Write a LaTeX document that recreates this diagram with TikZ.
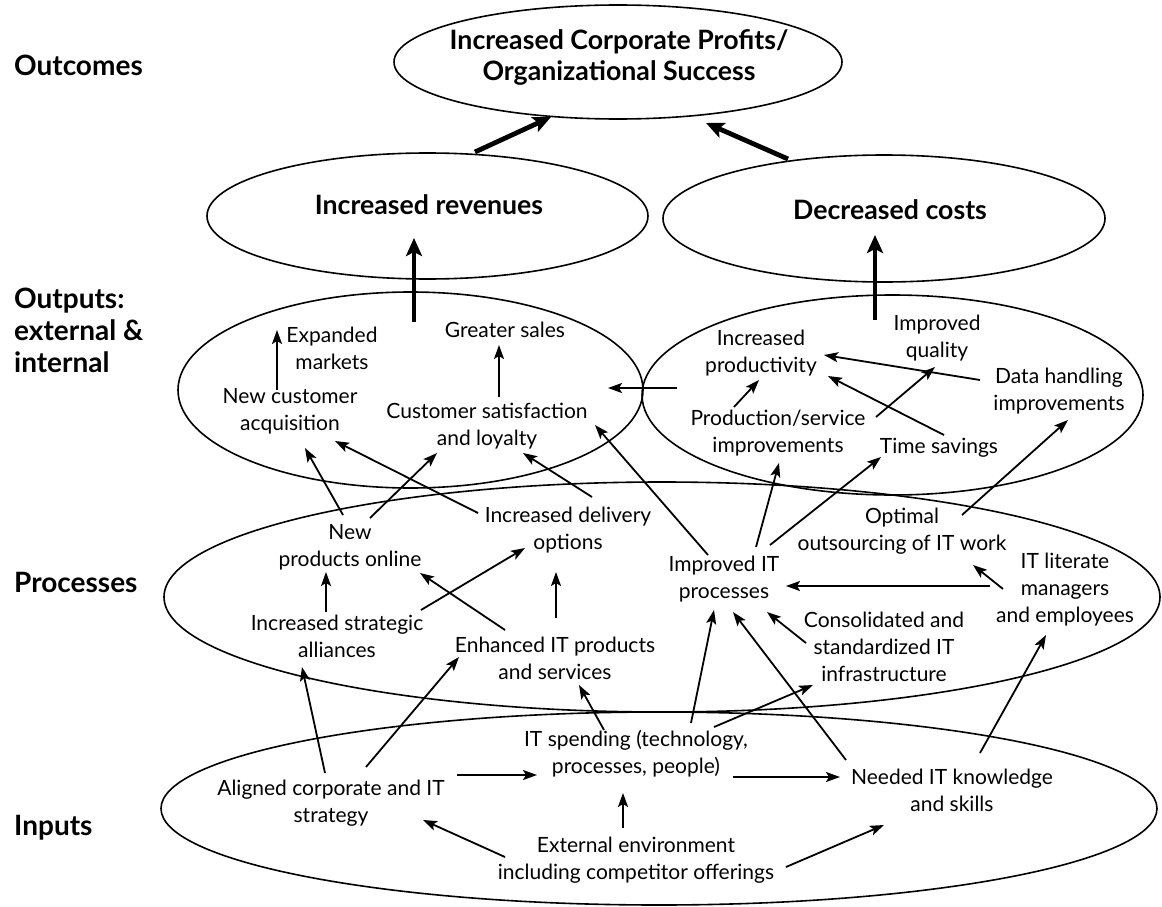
\documentclass[tikz,border=0pt]{standalone}
\usepackage{fontspec}
\setmainfont{Lato}
\usetikzlibrary{arrows.meta,shapes.geometric,calc}
\begin{document}
\begin{tikzpicture}[x=1pt,y=-1pt,
  every node/.style={inner sep=0pt},
  txt/.style={align=center,font=\fontsize{21}{27}\selectfont},
  bld/.style={align=center,font=\fontsize{26.7}{31}\selectfont\bfseries},
  lbl/.style={align=left,anchor=west,font=\fontsize{28}{32}\selectfont\bfseries},
  oval/.style={draw,ellipse,line width=1.6pt,inner sep=0pt},
  arr/.style={line width=1.8pt,-{Stealth[length=14pt,width=10pt,inset=3pt]}},
  fat/.style={line width=4.8pt,-{Stealth[length=18pt,width=16pt,inset=4pt]}},
]
\useasboundingbox (0,0) rectangle (1162,907);
% ellipses
\node[oval,minimum width=448pt,minimum height=114pt] (oc) at (618,62) {};
\node[oval,minimum width=441pt,minimum height=126pt] (rev) at (427.5,216) {};
\node[oval,minimum width=442pt,minimum height=127pt] (cost) at (884,218.5) {};
\node[oval,minimum width=465pt,minimum height=196pt] (outL) at (410.5,390) {};
\node[oval,minimum width=501pt,minimum height=200pt] (outR) at (892.5,395) {};
\node[oval,minimum width=996pt,minimum height=230pt] (proc) at (662,597) {};
\node[oval,minimum width=996pt,minimum height=193pt] (inp) at (659,808.5) {};
% level labels
\node[lbl] (lOut) at (14,65) {Outcomes};
\node[lbl] (lOutp) at (14,330) {Outputs:\\external \&\\internal};
\node[lbl] (lProc) at (14,582) {Processes};
\node[lbl] (lInp) at (14,828) {Inputs};
% outcome texts
\node[bld] (ocT) at (619,57) {Increased Corporate Profits/\\Organizational Success};
\node[bld] (revT) at (429,205) {Increased revenues};
\node[bld] (costT) at (890,210) {Decreased costs};
% outputs
\node[txt] (em) at (332,348) {Expanded\\markets};
\node[txt] (gs) at (505,330) {Greater sales};
\node[txt] (nca) at (290,411) {New customer\\acquisition};
\node[txt] (csl) at (487,426) {Customer satisfaction\\and loyalty};
\node[txt] (ip) at (761,353) {Increased\\productivity};
\node[txt] (iq) at (937,338) {Improved\\quality};
\node[txt] (dh) at (1059,391) {Data handling\\improvements};
\node[txt] (ps) at (778,433) {Production/service\\improvements};
\node[txt] (ts) at (939,448) {Time savings};
% processes
\node[txt] (np) at (350,547) {New\\products online};
\node[txt] (ido) at (568,530) {Increased delivery\\options};
\node[txt] (isa) at (337,636) {Increased strategic\\alliances};
\node[txt] (eit) at (555,658) {Enhanced IT products\\and services};
\node[txt] (iit) at (724,579) {Improved IT\\processes};
\node[txt] (oo) at (902,531) {Optimal\\outsourcing of IT work};
\node[txt] (itl) at (1065,590) {IT literate\\managers\\and employees};
\node[txt] (csi) at (884,647) {Consolidated and\\standardized IT\\infrastructure};
% inputs
\node[txt] (al) at (331,803) {Aligned corporate and IT\\strategy};
\node[txt] (its) at (636,754) {IT spending (technology,\\processes, people)};
\node[txt] (nk) at (952,790) {Needed IT knowledge\\and skills};
\node[txt] (ext) at (636,860) {External environment\\including competitor offerings};
% thick arrows
\draw[fat] ($(rev)+(47.5,-64)$) -- ($(oc)+(-67,55)$);
\draw[fat] ($(cost)+(-96,-59.5)$) -- ($(oc)+(88,61)$);
\draw[fat] ($(outL)+(3.5,-68)$) -- ($(rev)+(-13.5,22)$);
\draw[fat] ($(outR)+(-17.5,-75)$) -- ($(cost)+(-9,16.5)$);
% outputs arrows
\draw[arr] ($(nca)+(-13,-21)$) -- ($(em)+(-55,-18)$);
\draw[arr] ($(csl)+(12,-29)$) -- ($(gs)+(-6,15)$);
\draw[arr] ($(outR)+(-215.5,-7)$) -- ($(outL)+(197.5,-2)$);
\draw[arr] ($(ps)+(-44,-26)$) -- ($(ip)+(-2,27)$);
\draw[arr] ($(dh)+(-79,-11)$) -- ($(ip)+(63,2)$);
\draw[arr] ($(ts)+(5,-13)$) -- ($(ip)+(67,23)$);
\draw[arr] ($(ps)+(98,-16)$) -- ($(iq)+(-2,29)$);
% processes -> outputs
\draw[arr] ($(np)+(-7,-32)$) -- ($(nca)+(15,37)$);
\draw[arr] ($(np)+(20,-29)$) -- ($(csl)+(-50,27)$);
\draw[arr] ($(ido)+(-90,-17)$) -- ($(nca)+(45,30)$);
\draw[arr] ($(ido)+(24,-33)$) -- ($(csl)+(36,27)$);
\draw[arr] ($(iit)+(-16,-24)$) -- ($(csl)+(108,-1)$);
\draw[arr] ($(iit)+(32,-32)$) -- ($(ps)+(1,30)$);
\draw[arr] ($(iit)+(46,-34)$) -- ($(ts)+(-58,9)$);
\draw[arr] ($(oo)+(60,-16)$) -- ($(dh)+(9,29)$);
% within processes
\draw[arr] ($(isa)+(-11,-24)$) -- ($(np)+(-24,25)$);
\draw[arr] ($(isa)+(84,-26)$) -- ($(ido)+(-43,18)$);
\draw[arr] ($(eit)+(-50,-28)$) -- ($(np)+(70,26)$);
\draw[arr] ($(eit)+(1,-40)$) -- ($(ido)+(-12,42)$);
\draw[arr] ($(csi)+(-78,-4)$) -- ($(iit)+(43,33)$);
\draw[arr] ($(itl)+(-75,-4)$) -- ($(iit)+(62,7)$);
\draw[arr] ($(itl)+(-62,-1)$) -- ($(oo)+(71,34)$);
% inputs -> processes
\draw[arr] ($(al)+(-6,-30)$) -- ($(isa)+(-35,31)$);
\draw[arr] ($(al)+(35,-36)$) -- ($(eit)+(-96,-1)$);
\draw[arr] ($(its)+(-32,-24)$) -- ($(eit)+(24,27)$);
\draw[arr] ($(its)+(55,-31)$) -- ($(iit)+(-10,31)$);
\draw[arr] ($(its)+(78,-27)$) -- ($(csi)+(-71,38)$);
\draw[arr] ($(nk)+(-106,-30)$) -- ($(iit)+(9,33)$);
\draw[arr] ($(nk)+(28,-37)$) -- ($(itl)+(-19,45)$);
% within inputs
\draw[arr] ($(al)+(126,-28)$) -- ($(its)+(-99,21)$);
\draw[arr] ($(its)+(97,23)$) -- ($(nk)+(-112,-13)$);
\draw[arr] ($(ext)+(-13,-32)$) -- ($(its)+(-13,39)$);
\draw[arr] ($(ext)+(-131,-3)$) -- ($(al)+(92,17)$);
\draw[arr] ($(ext)+(150,7)$) -- ($(nk)+(-68,35)$);
\end{tikzpicture}
\end{document}
